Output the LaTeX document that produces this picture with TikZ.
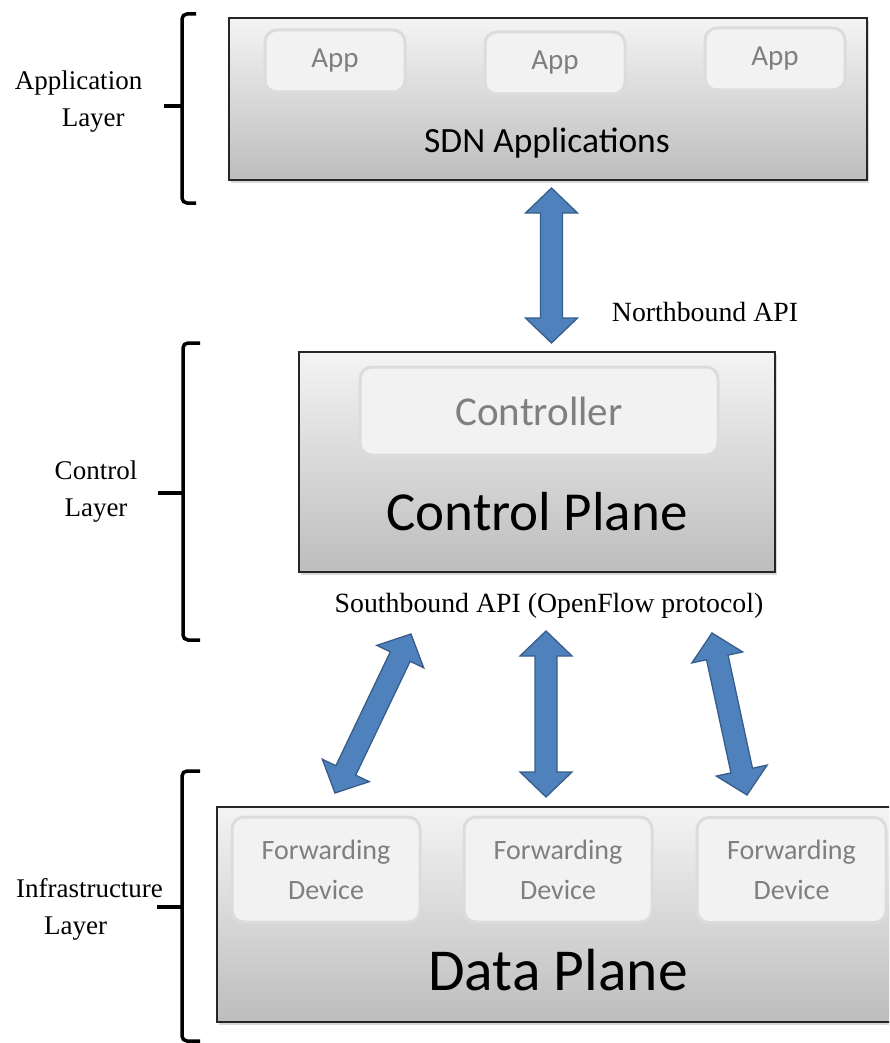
\documentclass[tikz,border=0pt]{standalone}
\usepackage{fontspec}
\setmainfont{Liberation Serif}
\newfontfamily\calfont{Carlito}
\usetikzlibrary{calc,shadows}
\definecolor{arrfill}{HTML}{4F81BD}
\definecolor{arrline}{HTML}{385D8A}
\definecolor{boxtop}{HTML}{F4F4F4}
\definecolor{boxbot}{HTML}{BDBDBD}
\definecolor{innerfill}{HTML}{F2F2F2}
\definecolor{innerline}{HTML}{DCDCDC}
\definecolor{softtext}{HTML}{7F7F7F}
\newcommand\blockarr[2]{%
  \filldraw[blockarrow] (#1)
   -- ($(#1)!25pt!(#2)!26pt!90:(#2)$)
   -- ($(#1)!25pt!(#2)!11pt!90:(#2)$)
   -- ($(#2)!25pt!(#1)!11pt!-90:(#1)$)
   -- ($(#2)!25pt!(#1)!26pt!-90:(#1)$)
   -- (#2)
   -- ($(#2)!25pt!(#1)!26pt!90:(#1)$)
   -- ($(#2)!25pt!(#1)!11pt!90:(#1)$)
   -- ($(#1)!25pt!(#2)!11pt!-90:(#2)$)
   -- ($(#1)!25pt!(#2)!26pt!-90:(#2)$)
   -- cycle;}
\tikzset{
  planebox/.style={draw=black!85, line width=1.6pt, top color=boxtop, bottom color=boxbot,
    drop shadow={shadow xshift=2pt, shadow yshift=-3pt, opacity=.3}, inner sep=0pt},
  innerbox/.style={draw=innerline, line width=3pt, fill=innerfill, rounded corners=12pt,
    text=softtext, font=\calfont, inner sep=0pt, align=center},
  blockarrow/.style={fill=arrfill, draw=arrline, line width=1.3pt, line join=miter},
  bracket/.style={line width=3.5pt, rounded corners=5pt},
  serif/.style={font=\fontsize{27}{37}\selectfont, align=center, inner sep=0pt},
  apilabel/.style={font=\fontsize{27.8}{37}\selectfont, inner sep=0pt},
  big/.style={font=\calfont\fontsize{#1}{#1}\selectfont, inner sep=0pt}
}
\begin{document}
\begin{tikzpicture}[x=1pt,y=-1pt]
\useasboundingbox (0,0) rectangle (889,1043);
\clip (0,0) rectangle (889,1043);
% plane boxes
\node[planebox, minimum width=638pt, minimum height=162pt] (sdn) at (548,99) {};
\node[planebox, minimum width=476pt, minimum height=220pt] (ctrl) at (537,462) {};
\node[planebox, minimum width=683pt, minimum height=215pt] (data) at (558.5,914.5) {};
% inner boxes
\node[innerbox, minimum width=140pt, minimum height=62pt, font=\calfont\fontsize{29}{29}\selectfont] (app1) at (335,61) {App};
\node[innerbox, minimum width=140pt, minimum height=62pt, font=\calfont\fontsize{29}{29}\selectfont] (app2) at (555,63) {App};
\node[innerbox, minimum width=140pt, minimum height=62pt, font=\calfont\fontsize{29}{29}\selectfont] (app3) at (775,59) {App};
\node[innerbox, minimum width=358pt, minimum height=88pt, font=\calfont\fontsize{41}{41}\selectfont] (ctl) at (539,411) {Controller};
\node[innerbox, minimum width=188pt, minimum height=105pt, font=\calfont\fontsize{28}{40}\selectfont] (fd1) at (326,869.5) {Forwarding\\Device};
\node[innerbox, minimum width=188pt, minimum height=105pt, font=\calfont\fontsize{28}{40}\selectfont] (fd2) at (558,869.5) {Forwarding\\Device};
\node[innerbox, minimum width=189pt, minimum height=105pt, font=\calfont\fontsize{28}{40}\selectfont] (fd3) at (791.5,870) {Forwarding\\Device};
% titles
\node[big=35.5] (sdnt) at (547,143) {SDN Applications};
\node[big=55] (ctrlt) at (537,512) {Control Plane};
\node[big=59.5] (datat) at (558,970) {Data Plane};
% API labels
\node[apilabel] (nb) at (705,312) {Northbound API};
\node[apilabel] (sb) at (549,606) {Southbound API (OpenFlow protocol)};
% layer labels
\node[serif, align=left] (appl) at (78.5,102) {Application\\\hspace*{47pt}Layer};
\node[serif] (ctll) at (96,492) {Control\\Layer};
\node[serif, align=left] (infl) at (89.5,909) {Infrastructure\\\hspace*{28pt}Layer};
% brackets
\draw[bracket] (196,14) -| (182,203) -- (196,203);
\draw[line width=3.5pt] (164,106) -- (182,106);
\draw[bracket] (200,343) -| (183,640) -- (200,640);
\draw[line width=3.5pt] (158,493) -- (183,493);
\draw[bracket] (200,771) -| (182,1041) -- (200,1041);
\draw[line width=3.5pt] (157,907) -- (182,907);
% block arrows
\coordinate (nbtop) at (551.5,188);
\coordinate (nbbot) at (551.5,343);
\coordinate (s1a) at (335,793);
\coordinate (s1b) at (411,634);
\coordinate (s2a) at (546,797);
\coordinate (s2b) at (546,631);
\coordinate (s3a) at (747,795);
\coordinate (s3b) at (712,633);
\blockarr{nbtop}{nbbot}
\blockarr{s1a}{s1b}
\blockarr{s2a}{s2b}
\blockarr{s3a}{s3b}
\end{tikzpicture}
\end{document}
